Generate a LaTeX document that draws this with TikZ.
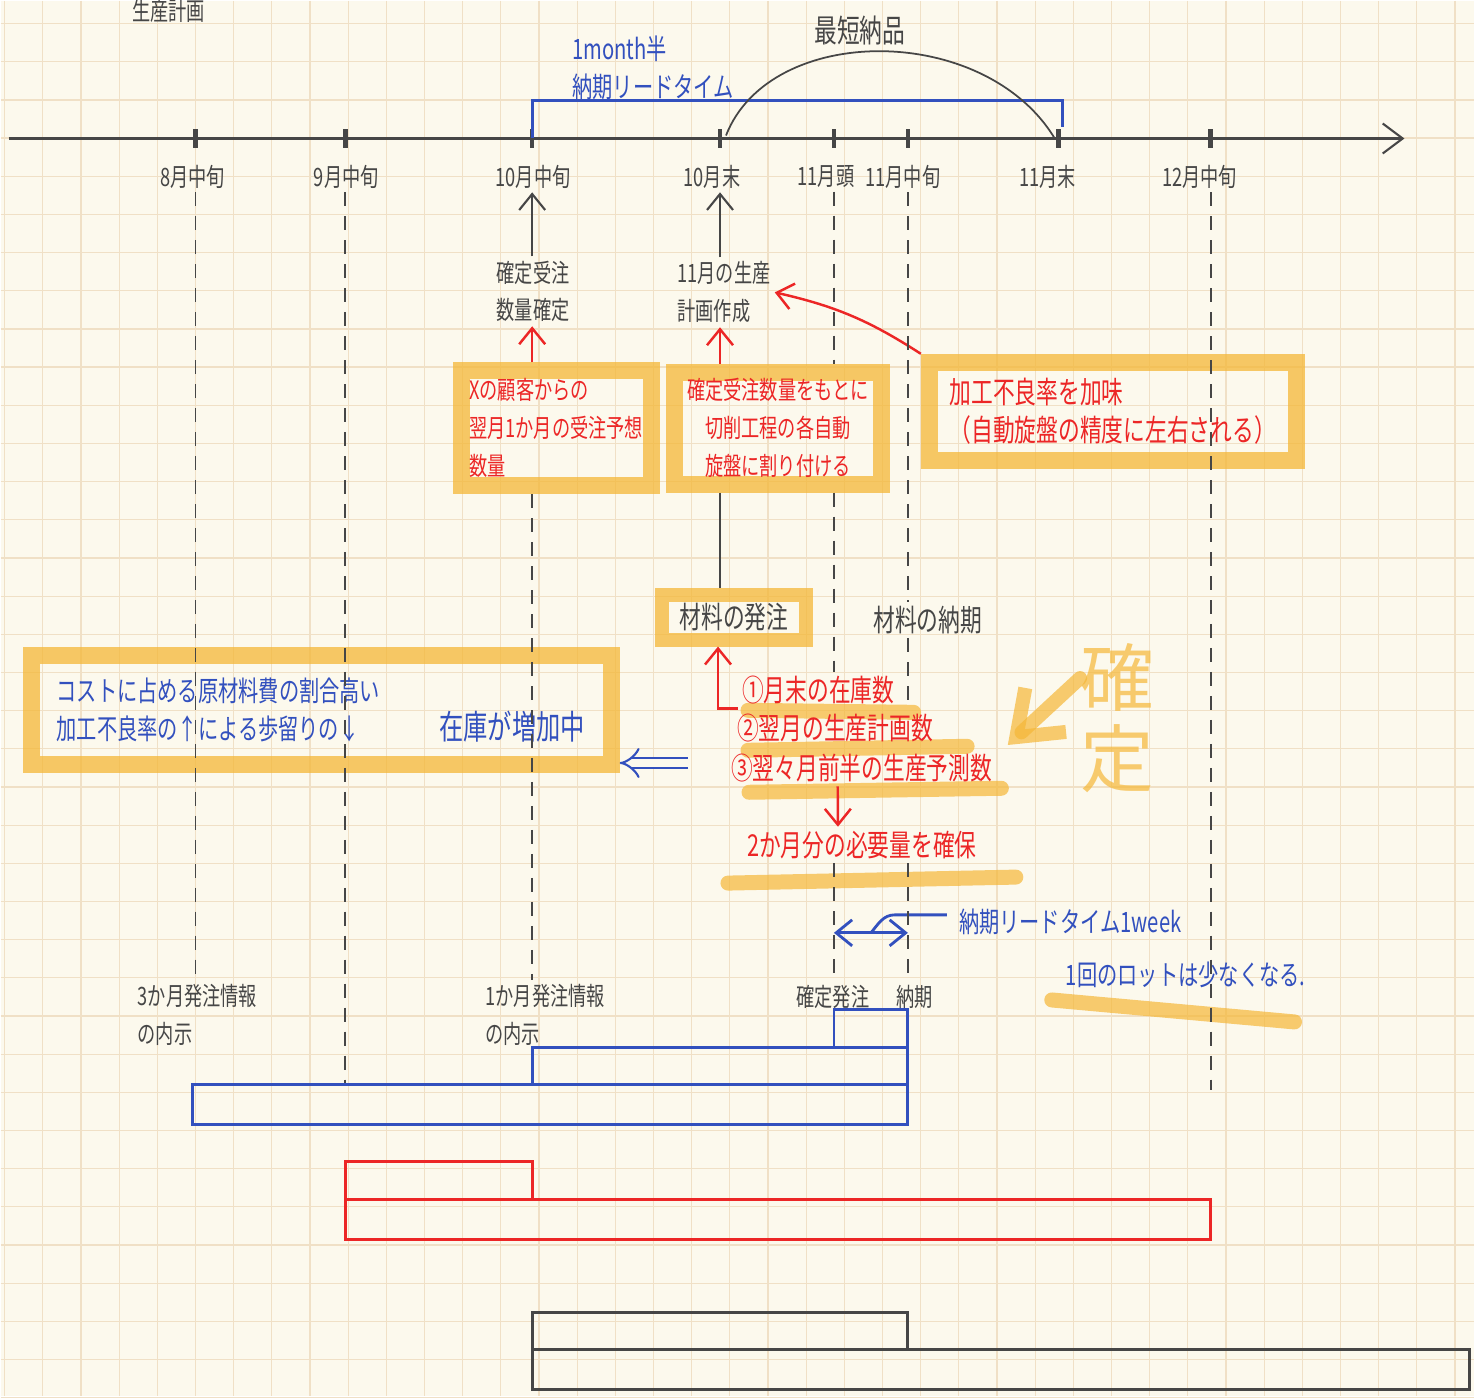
\documentclass[tikz,border=0pt]{standalone}
\usepackage{fontspec}
\setmainfont{Noto Sans CJK JP}
\usetikzlibrary{arrows.meta,calc,positioning}
\definecolor{xPaper}{RGB}{252,249,237}
\definecolor{xGrid}{RGB}{240,224,198}
\definecolor{xInk}{RGB}{70,70,70}
\definecolor{xBlue}{RGB}{50,80,190}
\definecolor{xRed}{RGB}{236,38,38}
\definecolor{xMarker}{RGB}{245,183,55}
\newcommand\hw[1]{\scalebox{0.72}[1]{#1}}
\pgfdeclarelayer{paper}
\pgfdeclarelayer{marks}
\pgfsetlayers{paper,marks,main}

\tikzset{
  hand/.style={font=\fontsize{7.2}{10.8}\selectfont, inner sep=1pt},
  handbig/.style={font=\fontsize{8.6}{10.8}\selectfont, inner sep=1pt},
  inktext/.style={hand, text=xInk},
  redtext/.style={hand, text=xRed},
  bluetext/.style={font=\fontsize{8}{10.8}\selectfont, inner sep=1pt, text=xBlue},
  axisline/.style={xInk, line width=0.6pt},
  tickmark/.style={xInk, line width=1.3pt},
  guide/.style={xInk, line width=0.5pt, dash pattern=on 1.4mm off 1mm},
  inkarrow/.style={xInk, line width=0.6pt, -{Straight Barb[length=1.6mm,width=2.6mm]}},
  redarrow/.style={xRed, line width=0.7pt, -{Straight Barb[length=1.6mm,width=2.6mm]}},
  bluepen/.style={xBlue, line width=0.8pt},
  redpen/.style={xRed, line width=0.8pt},
  blackpen/.style={xInk, line width=0.8pt},
  markbox/.style={draw=xMarker, draw opacity=0.75, line width=1.7mm},
  markline/.style={xMarker, opacity=0.7, line width=1.5mm, line cap=round},
}

\begin{document}
\begin{tikzpicture}[x=0.1mm, y=-0.1mm]
  % paper and grid
  \begin{pgfonlayer}{paper}
    \fill[xPaper] (0,0) rectangle (1475,1397);
    \foreach \i in {0,...,38} \draw[xGrid, line width=0.35pt] ({4+38.2*\i},0) -- ++(0,1397);
    \foreach \j in {0,...,36} \draw[xGrid, line width=0.35pt] (0,{23+38.2*\j}) -- ++(1475,0);
  \end{pgfonlayer}
  \useasboundingbox (0,0) rectangle (1475,1397);

  % time axis
  \coordinate (axL) at (8,138);
  \coordinate (axR) at (1405,138);
  \draw[axisline, -{Straight Barb[length=2mm,width=3mm]}] (axL) -- (axR);
  \foreach \x/\n/\lab/\dx in {195/t8m/8月中旬/-3, 345/t9m/9月中旬/1, 532/t10m/10月中旬/1,
      720/t10e/10月末/-8, 834/t11b/11月頭/-8, 908/t11m/11月中旬/-5,
      1059/t11e/11月末/-11, 1211/t12m/12月中旬/-11} {
    \coordinate (\n) at (\x,138);
    \draw[tickmark] (\x,129) -- (\x,148);
    \node[inktext] (l-\n) at (\x+\dx,176) {\hw{\lab}};
  }
  \node[inktext] (title) at (168,10) {\hw{生産計画}};

  % lead time and shortest delivery
  \draw[bluepen] (t10m) -- ++(0,-38) -| ($(t11e)+(4,-12)$);
  \node[bluetext, align=left, anchor=west] (leadtime) at (568,67) {\hw{1month半}\\\hw{納期リードタイム}};
  \draw[xInk, line width=0.5pt] (t10e) ++(6,-3) .. controls (770,22) and (985,22) .. ($(t11e)+(-4,0)$);
  \node[inktext, font=\fontsize{9}{11}\selectfont] (shortest) at (860,30) {\hw{最短納品}};

  % plans
  \node[inktext, align=center] (fixed) at (533,291) {\hw{確定受注}\\\hw{数量確定}};
  \node[inktext, align=left] (plan11) at (724,292) {\hw{11月の生産}\\\hw{計画作成}};
  \draw[inkarrow] (fixed.north -| t10m) -- (l-t10m.south -| t10m);
  \draw[inkarrow] (plan11.north -| t10e) -- (l-t10e.south -| t10e);

  \node[markbox, redtext, align=left, minimum width=19mm, minimum height=11.5mm] (box1) at (556,428)
    {\hw{Xの顧客からの}\\\hw{翌月1か月の受注予想}\\\hw{数量}};
  \node[markbox, redtext, align=center, minimum width=20.7mm, minimum height=11.2mm] (box2) at (778,428)
    {\hw{確定受注数量をもとに}\\\hw{切削工程の各自動}\\\hw{旋盤に割り付ける}};
  \node[markbox, redtext, handbig, align=left, minimum width=36.7mm, minimum height=9.8mm] (box3) at (1113,411)
    {\hw{加工不良率を加味}\\\hw{（自動旋盤の精度に左右される）}};
  \draw[redarrow] (box1.north -| t10m) -- (fixed.south -| t10m);
  \draw[redarrow] (box2.north -| t10e) -- (plan11.south -| t10e);
  \draw[redarrow] (box3.north west) to[bend right=10] (plan11.east);

  % material
  \node[markbox, inktext, handbig, line width=1.4mm, minimum width=14.5mm, minimum height=4.5mm] (order) at (734,617) {\hw{材料の発注}};
  \node[inktext, handbig] (matdue) at (928,620) {\hw{材料の納期}};

  \node[redtext, handbig, anchor=west] (li1) at (738,690) {\hw{①月末の在庫数}};
  \node[redtext, handbig, anchor=west] (li2) at (733,728) {\hw{②翌月の生産計画数}};
  \node[redtext, handbig, anchor=west] (li3) at (727,768) {\hw{③翌々月前半の生産予測数}};
  \node[redtext, handbig] (need) at (862,845) {\hw{2か月分の必要量を確保}};
  \begin{pgfonlayer}{marks}
    \draw[markline] ($(li1.south west)+(10,2)$) -- ($(li1.south east)+(15,4)$);
    \draw[markline] ($(li2.south west)+(15,4)$) -- ($(li2.south east)+(30,0)$);
    \draw[markline] ($(li3.south west)+(22,6)$) -- ($(li3.south east)+(5,2)$);
    \draw[markline] ($(need.south west)+(-15,20)$) -- ($(need.south east)+(35,14)$);
  \end{pgfonlayer}
  \draw[redarrow] (li1.south west) -| ($(order.south)+(-16,0)$);
  \draw[redarrow] ($(li3.south)+(-24,0)$) -- ($(need.north)+(-24,0)$);

  % big marker note
  \node[text=xMarker, opacity=0.7, font=\fontsize{21}{23}\selectfont, align=center, inner sep=0pt] (kakutei) at (1118,718) {確\\定};
  \draw[xMarker, opacity=0.7, line width=1.4mm, line cap=round, -{Straight Barb[length=4mm,width=6mm]}]
    ($(kakutei.west)+(0,-40)$) -- (1008,745);

  % cost note
  \node[markbox, bluetext, align=left, text width=53mm, inner xsep=2.5mm, minimum height=11mm] (costbox) at (321,710)
    {\hw{コストに占める原材料費の割合高い}\\\mbox{\hw{加工不良率の↑による歩留りの↓}\hspace{8mm}{\fontsize{9.6}{10.8}\selectfont\hw{在庫が増加中}}}};
  \coordinate (dblS) at (688,763);
  \draw[xBlue, line width=0.6pt, double=xPaper, double distance=2.4pt, -{Implies[length=2mm]}] (dblS) -- (costbox.east |- dblS);

  % lead time 1 week
  \coordinate (wkL) at (t11b |- 0,933);
  \coordinate (wkR) at (t11m |- 0,933);
  \draw[bluepen, {Straight Barb[length=1.6mm,width=2.6mm]}-{Straight Barb[length=1.6mm,width=2.6mm]}] (wkL) -- (wkR);
  \node[bluetext, anchor=west] (wklabel) at (955,922) {\hw{納期リードタイム1week}};
  \draw[bluepen] ($(wkL)!0.5!(wkR)$) to[out=50,in=180] ($(wklabel.west)+(-60,-7)$) -- ($(wklabel.west)+(-8,-7)$);
  \node[bluetext, anchor=west] (lot) at (1062,975) {\hw{1回のロットは少なくなる.}};
  \begin{pgfonlayer}{marks}
    \draw[markline] ($(lot.south west)+(-10,8)$) -- ($(lot.south east)+(-15,30)$);
  \end{pgfonlayer}

  % bottom labels
  \node[inktext, align=left] (info3) at (197,1015) {\hw{3か月発注情報}\\\hw{の内示}};
  \node[inktext, align=left] (info1) at (545,1015) {\hw{1か月発注情報}\\\hw{の内示}};
  \node[inktext] (orderfix) at (833,997) {\hw{確定発注}};
  \node[inktext] (duelab) at (915,997) {\hw{納期}};

  % guides
  \draw[guide] (l-t8m.south -| t8m) -- (info3.north -| t8m);
  \draw[guide] (l-t9m.south -| t9m) -- (t9m |- 0,1083);
  \draw[guide] (box1.south -| t10m) -- (info1.north -| t10m);
  \draw[xInk, line width=0.5pt] (box2.south -| t10e) -- (order.north -| t10e);
  \draw[guide] (l-t11b.south -| t11b) -- (box2.north -| t11b);
  \draw[guide] (box2.south -| t11b) -- (li1.north -| t11b);
  \draw[guide] (need.south -| t11b) -- (orderfix.north -| t11b);
  \draw[guide] (l-t11m.south -| t11m) -- (matdue.north -| t11m);
  \draw[guide] (matdue.south -| t11m) -- (li2.north -| t11m);
  \draw[guide] (need.south -| t11m) -- (duelab.north -| t11m);
  \draw[guide] (l-t12m.south -| t12m) -- (t12m |- 0,1090);

  % order bars
  \draw[bluepen] (t11b |- 0,1048) -- (t11b |- 0,1010) -- (t11m |- 0,1010) -- (t11m |- 0,1048);
  \draw[bluepen] (t10m |- 0,1085) -- (t10m |- 0,1048) -- (t11m |- 0,1048) -- (t11m |- 0,1085);
  \draw[bluepen] (192,1085) rectangle (t11m |- 0,1125);
  \draw[redpen] (t9m |- 0,1162) rectangle (t10m |- 0,1200);
  \draw[redpen] (t9m |- 0,1200) rectangle (t12m |- 0,1240);
  \draw[blackpen] (t10m |- 0,1313) rectangle (t11m |- 0,1350);
  \draw[blackpen] (t10m |- 0,1350) rectangle (1470,1390);
\end{tikzpicture}
\end{document}
